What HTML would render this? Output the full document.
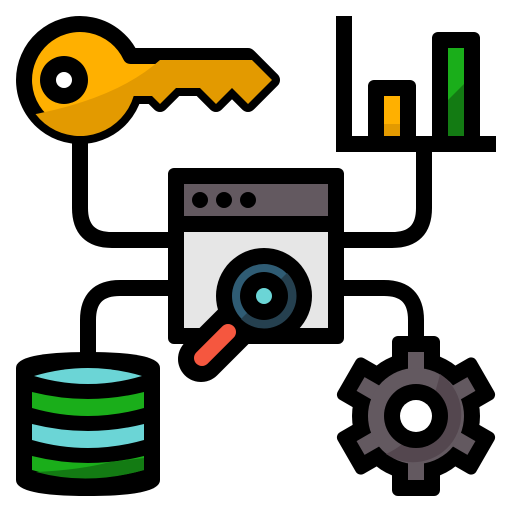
<!DOCTYPE html>
<html><head><meta charset="utf-8"><style>html,body{margin:0;padding:0;background:#fff}svg{display:block}</style></head>
<body>
<svg width="512" height="512" viewBox="0 0 512 512" xmlns="http://www.w3.org/2000/svg">
<defs>
<clipPath id="kc"><path d="M130.6 56 L248 56 L272 80 L248 104 L232 88 L216 104 L200 88 L176 88 L160 104 L152 96 L133.7 96 A56 56 0 1 1 130.6 56 Z"/></clipPath>
</defs>
<!-- connectors -->
<g fill="none" stroke="#000" stroke-width="16">
<path d="M80 130 L80 208 Q80 240 112 240 L180 240"/>
<path d="M424 148 L424 208 Q424 240 392 240 L330 240"/>
<path d="M180 288 L120 288 Q88 288 88 320 L88 362"/>
<path d="M330 288 L384 288 Q416 288 416 320 L416 344"/>
</g>
<!-- key -->
<path d="M130.6 56 L248 56 L272 80 L248 104 L232 88 L216 104 L200 88 L176 88 L160 104 L152 96 L133.7 96 A56 56 0 1 1 130.6 56 Z" fill="#FFB000" stroke="#000" stroke-width="16" stroke-linejoin="round"/>
<g clip-path="url(#kc)"><path d="M0 120 Q110 105 160 60 L300 60 L300 200 L0 200Z" fill="#E39A00"/></g>
<circle cx="64" cy="80" r="24" fill="#000"/><circle cx="64" cy="80" r="8" fill="#fff"/>
<!-- chart -->
<rect x="336" y="16" width="16" height="136" fill="#000"/>
<rect x="336" y="136" width="160" height="16" fill="#000"/>
<rect x="368" y="80" width="48" height="64" rx="6" fill="#000"/>
<rect x="384" y="96" width="16" height="40" fill="#FFB000"/>
<rect x="384" y="124" width="16" height="12" fill="#E39A00"/>
<rect x="432" y="32" width="48" height="112" rx="6" fill="#000"/>
<rect x="448" y="48" width="16" height="88" fill="#1AAE1A"/>
<path d="M448 100 L464 84 L464 136 L448 136Z" fill="#137B13"/>
<!-- window -->
<rect x="168" y="168" width="176" height="176" rx="6" fill="#000"/>
<rect x="184" y="184" width="144" height="32" fill="#635960"/>
<rect x="184" y="232" width="144" height="96" fill="#E6E6E6"/>
<circle cx="200" cy="200" r="8" fill="#000"/><circle cx="224" cy="200" r="8" fill="#000"/><circle cx="248" cy="200" r="8" fill="#000"/>
<!-- magnifier -->
<line x1="201" y1="359" x2="236" y2="324" stroke="#000" stroke-width="46" stroke-linecap="round"/>
<circle cx="264" cy="296" r="48" fill="#000"/>
<line x1="202" y1="358" x2="228" y2="332" stroke="#F5573F" stroke-width="16" stroke-linecap="round"/>
<circle cx="264" cy="296" r="32" fill="#2F5C74"/>
<path d="M287 273 A32 32 0 0 1 241 319 L264 296Z" fill="#25404F"/>
<circle cx="264" cy="296" r="24" fill="#000"/>
<circle cx="264" cy="296" r="8" fill="#6BD5D6"/>
<!-- database -->
<path d="M16 368 Q16 352 88 352 Q160 352 160 368 L160 480 Q160 496 88 496 Q16 496 16 480Z" fill="#000"/>
<path d="M34 376 Q88 360 142 376 Q88 392 34 376Z" fill="#6BD5D6"/>
<path d="M32 392 Q88 406 144 392 L144 408 Q88 424 32 408Z" fill="#1AAE1A"/>
<path d="M32 424 Q88 438 144 424 L144 440 Q88 456 32 440Z" fill="#6BD5D6"/>
<path d="M32 456 Q88 470 144 456 L144 470 Q88 486 32 470Z" fill="#1AAE1A"/>
<path d="M36 472 Q80 470 110 462 L144 458 L144 470 Q88 486 36 472Z" fill="#137B13"/>
<!-- gear -->
<g transform="translate(416,416)">
<circle r="64" fill="#000"/>
<g fill="#000">
<rect x="-24" y="-80" width="48" height="160" rx="6"/>
<rect x="-24" y="-80" width="48" height="160" rx="6" transform="rotate(60)"/>
<rect x="-24" y="-80" width="48" height="160" rx="6" transform="rotate(120)"/>
</g>
<g fill="#635960">
<rect x="-8" y="-64" width="16" height="128"/>
<rect x="-8" y="-64" width="16" height="128" transform="rotate(60)"/>
<rect x="-8" y="-64" width="16" height="128" transform="rotate(120)"/>
<circle r="48"/>
</g>
<path d="M24 -42 A48 48 0 0 1 -30 38 Q10 20 24 -42Z" fill="#54474F"/>
<circle r="32" fill="#000"/>
<circle r="16" fill="#fff"/>
</g>
</svg>
</body></html>
